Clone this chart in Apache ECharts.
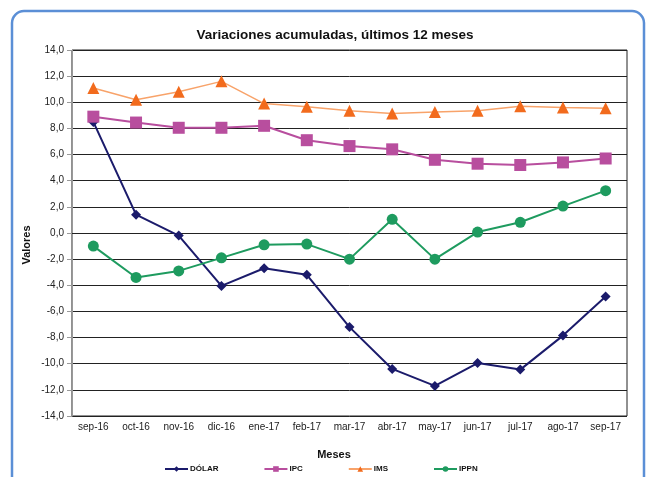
<!doctype html>
<html>
<head>
    <meta http-equiv="Content-Type" content="text/html; charset=utf-8">
    <title>Variaciones acumuladas</title>
    <script src="https://cdn.jsdelivr.net/npm/echarts@6/dist/echarts.min.js"></script>
    <style>
        html, body { margin: 0; padding: 0; background: #fff; }
        #chart { width: 648px; height: 477px; }
    </style>
</head>
<body>
<div id="chart"></div>
<script type="text/javascript">
    var meses = ['sep-16', 'oct-16', 'nov-16', 'dic-16', 'ene-17', 'feb-17', 'mar-17',
                 'abr-17', 'may-17', 'jun-17', 'jul-17', 'ago-17', 'sep-17'];
    var dolar = [8.5, 1.4, -0.2, -4.05, -2.7, -3.2, -7.2, -10.4, -11.7, -9.95, -10.45, -7.85, -4.85];
    var ipc   = [8.9, 8.45, 8.05, 8.05, 8.2, 7.1, 6.65, 6.4, 5.6, 5.3, 5.2, 5.4, 5.7];
    var ims   = [11.1, 10.2, 10.8, 11.6, 9.9, 9.65, 9.35, 9.15, 9.25, 9.35, 9.7, 9.6, 9.55];
    var ippn  = [-1.0, -3.4, -2.9, -1.9, -0.9, -0.85, -2.0, 1.05, -2.0, 0.07, 0.82, 2.06, 3.24];

    var myChart = echarts.init(document.getElementById('chart'));

    function serie(nombre, datos, color, lineColor, simbolo, tam, ancho) {
        return {
            name: nombre,
            type: 'line',
            data: datos,
            symbol: simbolo,
            symbolSize: tam,
            itemStyle: { color: color },
            lineStyle: { color: lineColor, width: ancho },
            animation: false
        };
    }

    var option = {
        backgroundColor: '#fff',
        textStyle: { fontFamily: 'Liberation Sans, Arial, sans-serif' },
        title: [
            {
                text: 'Variaciones acumuladas, últimos 12 meses',
                left: 330, top: 23, textAlign: 'center',
                textStyle: { fontSize: 13.5, fontWeight: 'bold', color: '#111' }
            },
            {
                text: 'Meses',
                left: 329, top: 444, textAlign: 'center',
                textStyle: { fontSize: 11, fontWeight: 'bold', color: '#111' }
            }
        ],
        legend: {
            left: 159, top: 460,
            itemWidth: 23, itemHeight: 7, itemGap: 45,
            textStyle: { fontSize: 8, fontWeight: 'bold', color: '#111', padding: [0, 0, 0, -3] },
            data: ['DÓLAR', 'IPC', 'IMS', 'IPPN']
        },
        grid: {
            left: 72, right: 21, top: 50, bottom: 61,
            show: true, borderColor: '#222', borderWidth: 1
        },
        xAxis: {
            type: 'category',
            data: meses,
            boundaryGap: true,
            axisLine: { lineStyle: { color: '#222' } },
            axisTick: { show: false },
            axisLabel: { fontSize: 10, color: '#222', margin: 6, interval: 0 }
        },
        yAxis: {
            type: 'value',
            min: -14, max: 14, interval: 2,
            axisLine: { show: true, lineStyle: { color: '#999' } },
            axisTick: { show: true, length: 5, lineStyle: { color: '#999' } },
            axisLabel: {
                fontSize: 10, color: '#222', margin: 8,
                formatter: function (v) { return v.toFixed(1).replace('.', ','); }
            },
            splitLine: { lineStyle: { color: '#222', width: 1 } }
        },
        graphic: [
            {
                type: 'rect',
                shape: { x: 12, y: 11, width: 632, height: 480, r: 12 },
                style: { fill: 'none', stroke: '#5B8FD6', lineWidth: 2.5 },
                silent: true
            },
            {
                // titulo del eje vertical
                type: 'text',
                x: 27, y: 245, rotation: Math.PI / 2,
                style: {
                    text: 'Valores', fill: '#111', align: 'center', verticalAlign: 'middle',
                    font: 'bold 11px Liberation Sans, Arial, sans-serif'
                },
                silent: true
            }
        ],
        series: [
            serie('DÓLAR', dolar, '#1B1B6B', '#1B1B6B', 'diamond', 10, 2),
            serie('IPC', ipc, '#B84E9E', '#B84E9E', 'rect', 12, 2),
            serie('IMS', ims, '#F26B1D', '#F8A36A', 'triangle', 12, 1.5),
            serie('IPPN', ippn, '#1E9B5F', '#1E9B5F', 'circle', 11, 2)
        ]
    };

    myChart.setOption(option);
</script>
</body>
</html>
